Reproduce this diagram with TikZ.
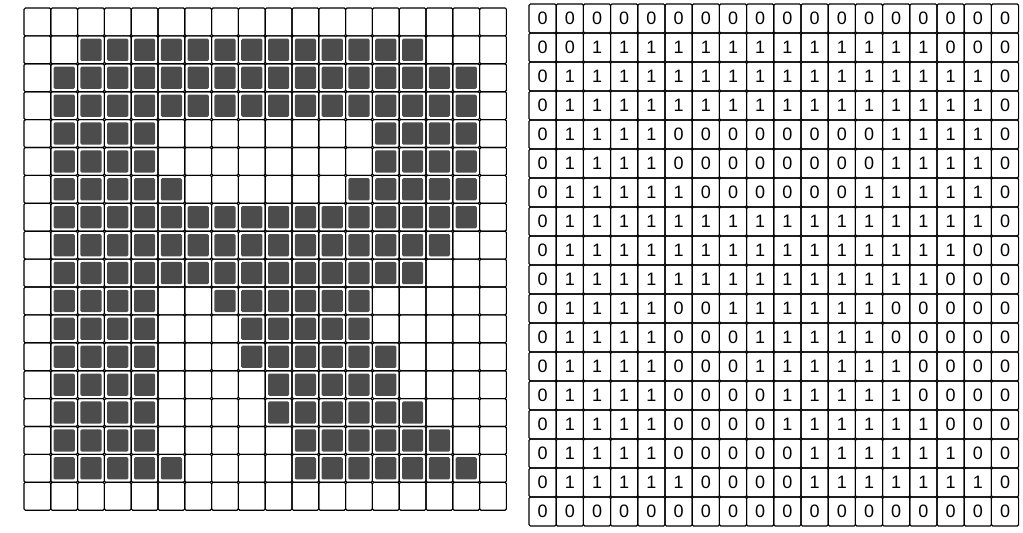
\documentclass[tikz,border=0pt]{standalone}
\usepackage{fontspec}
\setmainfont{Liberation Sans}
\tikzset{
  lcell/.style={draw=black, line width=0.85pt, rounded corners=1pt,
    minimum width=20.1pt, minimum height=20.9pt, inner sep=0pt, outer sep=0pt},
  gcell/.style={lcell, path picture={
    \fill[black!70] ([shift={(2.1pt,-2.1pt)}]path picture bounding box.north west)
      rectangle ([shift={(-2.1pt,2.1pt)}]path picture bounding box.south east);}},
  dcell/.style={draw=black, line width=0.85pt, rounded corners=1pt,
    minimum width=20.4pt, minimum height=21.75pt, inner sep=0pt, outer sep=0pt,
    font=\fontsize{13.5}{14}\selectfont}
}
\begin{document}
\begin{tikzpicture}[x=0.75pt,y=-0.75pt]
\useasboundingbox (0,0) rectangle (1023,532);
\foreach \row [count=\i] in {
 {0,0,0,0,0,0,0,0,0,0,0,0,0,0,0,0,0,0},
 {0,0,1,1,1,1,1,1,1,1,1,1,1,1,1,0,0,0},
 {0,1,1,1,1,1,1,1,1,1,1,1,1,1,1,1,1,0},
 {0,1,1,1,1,1,1,1,1,1,1,1,1,1,1,1,1,0},
 {0,1,1,1,1,0,0,0,0,0,0,0,0,1,1,1,1,0},
 {0,1,1,1,1,0,0,0,0,0,0,0,0,1,1,1,1,0},
 {0,1,1,1,1,1,0,0,0,0,0,0,1,1,1,1,1,0},
 {0,1,1,1,1,1,1,1,1,1,1,1,1,1,1,1,1,0},
 {0,1,1,1,1,1,1,1,1,1,1,1,1,1,1,1,0,0},
 {0,1,1,1,1,1,1,1,1,1,1,1,1,1,1,0,0,0},
 {0,1,1,1,1,0,0,1,1,1,1,1,1,0,0,0,0,0},
 {0,1,1,1,1,0,0,0,1,1,1,1,1,0,0,0,0,0},
 {0,1,1,1,1,0,0,0,1,1,1,1,1,1,0,0,0,0},
 {0,1,1,1,1,0,0,0,0,1,1,1,1,1,0,0,0,0},
 {0,1,1,1,1,0,0,0,0,1,1,1,1,1,1,0,0,0},
 {0,1,1,1,1,0,0,0,0,0,1,1,1,1,1,1,0,0},
 {0,1,1,1,1,1,0,0,0,0,1,1,1,1,1,1,1,0},
 {0,0,0,0,0,0,0,0,0,0,0,0,0,0,0,0,0,0}} {
  \foreach \v [count=\j] in \row {
    \ifnum\v=1
      \node[gcell] (L-\i-\j) at ({24+(\j-0.5)*26.8},{8+(\i-0.5)*27.9}) {};
    \else
      \node[lcell] (L-\i-\j) at ({24+(\j-0.5)*26.8},{8+(\i-0.5)*27.9}) {};
    \fi
    \node[dcell] (R-\i-\j) at ({529+(\j-0.5)*27.2},{4+(\i-0.5)*29}) {\v};
  }
}
\end{tikzpicture}
\end{document}
